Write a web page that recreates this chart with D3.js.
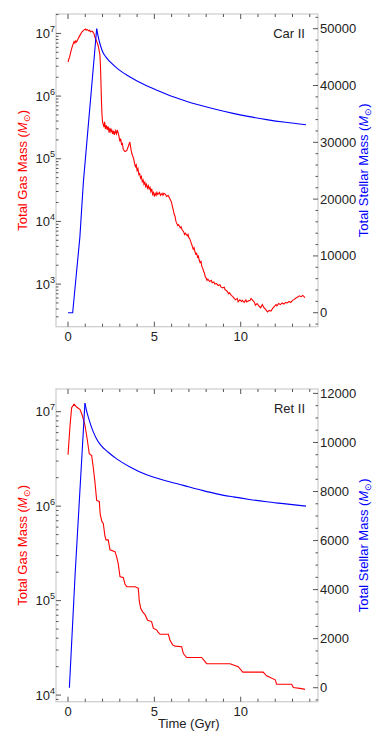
<!DOCTYPE html>
<html><head><meta charset="utf-8">
<script src="https://cdn.jsdelivr.net/npm/d3@7"></script>
<style>
html,body{margin:0;padding:0;background:#fff;}
svg{display:block;font-family:"Liberation Sans",Arial,sans-serif;}
</style></head>
<body>
<svg id="c" width="374" height="747"></svg>
<script>
// ---------------- DATA ----------------
const panelNames = ["Car II", "Ret II"];
const xTickLabels = [0, 5, 10];

// Car II: total gas mass (Msun) vs time (Gyr)
const carGasT = [0,0.1,0.2,0.3,0.35,0.4,0.45,0.5,0.6,0.7,0.8,0.9,1.0,1.05,1.1,1.2,1.25,1.3,1.4,1.5,1.55,1.6,1.7,1.75,1.8,1.85,1.88,1.91,1.94,1.97,2.0,2.03,2.08,2.12,2.17,2.22,2.27,2.32,2.38,2.43,2.48,2.53,2.58,2.63,2.68,2.74,2.8,2.85,2.9,2.95,3.0,3.05,3.1,3.15,3.2,3.3,3.4,3.5,3.58,3.65,3.7,3.75,3.8,3.85,3.9,3.95,4.0,4.05,4.1,4.15,4.2,4.25,4.3,4.35,4.4,4.45,4.5,4.55,4.6,4.65,4.7,4.75,4.8,4.85,4.9,4.95,5.0,5.05,5.1,5.15,5.2,5.3,5.35,5.45,5.5,5.55,5.65,5.7,5.8,5.9,6.0,6.05,6.1,6.15,6.2,6.25,6.3,6.35,6.4,6.5,6.55,6.6,6.7,6.75,6.8,6.9,6.95,7.0,7.05,7.1,7.15,7.2,7.25,7.3,7.35,7.4,7.45,7.5,7.55,7.6,7.65,7.7,7.75,7.8,7.85,7.9,7.95,8.0,8.05,8.1,8.2,8.3,8.35,8.45,8.5,8.6,8.7,8.8,8.85,8.95,9.05,9.1,9.2,9.3,9.35,9.45,9.55,9.6,9.7,9.8,9.85,9.95,10.05,10.1,10.2,10.3,10.35,10.45,10.55,10.6,10.7,10.8,10.85,10.95,11.05,11.15,11.25,11.35,11.45,11.55,11.65,11.75,11.85,11.95,12.05,12.1,12.2,12.3,12.4,12.5,12.6,12.7,12.8,12.9,13.0,13.1,13.2,13.3,13.4,13.5,13.6,13.72];
const carGas = [3.5e6,4.3e6,5.6e6,6.8e6,7.4e6,7.0e6,7.6e6,7.3e6,8.4e6,9.4e6,1.05e7,1.12e7,1.18e7,1.13e7,1.16e7,1.10e7,1.12e7,1.06e7,1.09e7,1.0e7,8.8e6,8.2e6,7.0e6,6.3e6,5.4e6,4.5e6,3.0e6,1.6e6,8.0e5,5.0e5,3.9e5,3.6e5,3.2e5,3.9e5,3.0e5,3.4e5,2.9e5,3.3e5,2.6e5,3.1e5,2.7e5,2.9e5,2.5e5,2.8e5,2.4e5,2.8e5,2.5e5,2.9e5,2.6e5,2.3e5,1.9e5,2.1e5,1.7e5,1.75e5,1.4e5,1.3e5,1.35e5,1.6e5,1.85e5,1.4e5,1.2e5,1.1e5,1.0e5,8.5e4,7.5e4,8.0e4,6.5e4,7.0e4,5.6e4,5.8e4,4.9e4,5.2e4,4.3e4,4.6e4,3.9e4,4.2e4,3.6e4,3.9e4,3.4e4,3.7e4,3.3e4,3.5e4,3.0e4,3.3e4,2.7e4,2.9e4,2.5e4,2.8e4,2.6e4,2.9e4,2.7e4,2.9e4,2.6e4,2.8e4,2.6e4,2.8e4,2.7e4,2.5e4,2.6e4,2.3e4,2.0e4,1.7e4,1.5e4,1.3e4,1.2e4,1.0e4,9.3e3,8.6e3,8.9e3,7.9e3,8.2e3,7.4e3,6.8e3,6.2e3,6.5e3,5.9e3,6.2e3,5.5e3,5.3e3,4.8e3,4.4e3,4.0e3,3.6e3,3.8e3,3.3e3,3.0e3,3.1e3,2.7e3,2.8e3,2.4e3,2.2e3,2.3e3,1.9e3,1.8e3,1.6e3,1.5e3,1.3e3,1.25e3,1.15e3,1.2e3,1.1e3,1.15e3,1.05e3,1.08e3,1.0e3,1.02e3,9.5e2,9.8e2,9.0e2,8.7e2,8.9e2,8.1e2,7.8e2,7.0e2,7.3e2,6.6e2,6.3e2,6.0e2,5.6e2,5.9e2,5.2e2,5.6e2,5.3e2,5.5e2,5.1e2,5.6e2,5.2e2,5.4e2,5.5e2,5.9e2,5.5e2,5.1e2,4.6e2,4.9e2,4.5e2,4.2e2,4.7e2,4.2e2,3.9e2,3.6e2,3.8e2,3.7e2,4.1e2,4.4e2,4.7e2,4.5e2,4.9e2,4.7e2,5.0e2,4.8e2,5.1e2,5.0e2,5.3e2,5.1e2,5.5e2,5.7e2,6.0e2,6.2e2,6.5e2,6.3e2,6.6e2,6.1e2];

// Car II: total stellar mass (Msun)
const carStarT = [0,0.27,0.69,0.89,1.66,1.75,1.85,2.0,2.2,2.43,2.8,3.1,3.4,4.0,4.75,5.4,6.04,6.8,7.6,8.6,9.56,10.5,11.5,12.6,13.78];
const carStar  = [0,0,13400,23000,50000,48550,47350,46000,45000,44190,43150,42450,41850,40800,39700,38850,38050,37280,36570,35780,35100,34520,34000,33520,33100];

// Ret II: total gas mass (Msun)
const retGasT = [0,0.12,0.21,0.35,0.5,0.7,0.83,0.98,1.08,1.23,1.3,1.37,1.47,1.56,1.66,1.81,1.87,1.97,2.04,2.14,2.2,2.33,2.43,2.72,2.82,2.91,3.01,3.2,3.3,3.4,3.88,3.98,4.07,4.13,4.21,4.32,4.46,4.61,4.84,4.94,5.13,5.23,5.33,5.81,5.91,6.06,6.2,6.58,6.68,6.87,7.74,8.03,9.38,9.86,10.12,11.3,11.5,12.0,12.08,12.95,13.05,13.53,13.72];
const retGas  = [3.5e6,7.2e6,1.1e7,1.2e7,1.12e7,1.05e7,9.1e6,7.2e6,5.6e6,3.6e6,3.5e6,3.45e6,2.5e6,1.8e6,1.15e6,1.12e6,8.1e5,6.8e5,6.6e5,4.8e5,4.4e5,4.4e5,3.45e5,3.3e5,2.9e5,2.45e5,1.8e5,1.75e5,1.5e5,1.4e5,1.4e5,1.38e5,1.35e5,9.8e4,8.3e4,7.6e4,7.1e4,6.2e4,6.0e4,5.1e4,4.9e4,4.6e4,4.4e4,4.4e4,3.8e4,3.4e4,3.3e4,3.25e4,2.75e4,2.5e4,2.5e4,2.15e4,2.15e4,2.0e4,1.75e4,1.75e4,1.6e4,1.45e4,1.3e4,1.3e4,1.2e4,1.17e4,1.15e4];

// Ret II: total stellar mass (Msun)
const retStarT = [0.08,0.41,0.98,1.08,1.18,1.3,1.47,1.65,1.85,2.33,2.82,3.59,4.55,5.71,6.68,7.64,8.6,9.57,10.5,11.5,12.47,13.78];
const retStar  = [0,4600,11600,11280,11020,10750,10420,10150,9930,9600,9330,9000,8680,8430,8250,8070,7905,7780,7675,7580,7505,7405];

const gasTickExp = [[3,4,5,6,7],[4,5,6,7]];
const starTicks = [[0,10000,20000,30000,40000,50000],[0,2000,4000,6000,8000,10000,12000]];
const starMinorStep = [2000, 500];

// ---------------- DRAW ----------------
const svg = d3.select("#c");
const L = 56, R = 318;
const panels = [
  {top:14, bottom:326.7, name:panelNames[0], logDom:[Math.pow(10,2.32),Math.pow(10,7.31)], sDom:[-2460,52590],
   gT:carGasT, g:carGas, sT:carStarT, s:carStar, exps:gasTickExp[0], sTicks:starTicks[0], sMinor:starMinorStep[0]},
  {top:389, bottom:701.7, name:panelNames[1], logDom:[Math.pow(10,3.93),Math.pow(10,7.24)], sDom:[-570,12180],
   gT:retGasT, g:retGas, sT:retStarT, s:retStar, exps:gasTickExp[1], sTicks:starTicks[1], sMinor:starMinorStep[1]}
];
const x = d3.scaleLinear().domain([-0.695,14.476]).range([L,R]);
const tickCol = "#555", frameCol = "#cfcfcf", textCol = "#222";

panels.forEach((p, pi) => {
  const yl = d3.scaleLog().domain(p.logDom).range([p.bottom, p.top]);
  const yr = d3.scaleLinear().domain(p.sDom).range([p.bottom, p.top]);
  const g = svg.append("g");

  g.append("rect").attr("x",L).attr("y",p.top).attr("width",R-L).attr("height",p.bottom-p.top)
    .attr("fill","none").attr("stroke",frameCol).attr("stroke-width",1.3);

  d3.range(0,15,1).forEach(t => {
    const len = t % 5 === 0 ? 5 : 3;
    g.append("line").attr("x1",x(t)).attr("x2",x(t)).attr("y1",p.bottom).attr("y2",p.bottom-len).attr("stroke",tickCol);
    g.append("line").attr("x1",x(t)).attr("x2",x(t)).attr("y1",p.top).attr("y2",p.top+len).attr("stroke",tickCol);
  });
  xTickLabels.forEach(t => {
    g.append("text").attr("x",x(t)).attr("y",p.bottom+14).attr("text-anchor","middle")
      .attr("font-size",13).attr("fill",textCol).text(t);
  });

  const lo = Math.floor(Math.log10(p.logDom[0])), hi = Math.ceil(Math.log10(p.logDom[1]));
  for (let e = lo; e <= hi; e++) {
    for (let m = 1; m <= 9; m++) {
      const v = m * Math.pow(10, e);
      if (v < p.logDom[0] || v > p.logDom[1]) continue;
      const len = m === 1 ? 5 : 2.5;
      g.append("line").attr("x1",L).attr("x2",L+len).attr("y1",yl(v)).attr("y2",yl(v)).attr("stroke",tickCol);
    }
  }
  p.exps.forEach(e => {
    const t = g.append("text").attr("x",L-1).attr("y",yl(Math.pow(10,e))+4.5).attr("text-anchor","end")
      .attr("font-size",13).attr("fill",textCol);
    t.append("tspan").text("10");
    t.append("tspan").attr("font-size",9).attr("dy",-6).text(e);
  });

  const sMin = Math.ceil(p.sDom[0]/p.sMinor)*p.sMinor;
  d3.range(sMin, p.sDom[1], p.sMinor).forEach(v => {
    const len = p.sTicks.includes(v) ? 5 : 2.5;
    g.append("line").attr("x1",R).attr("x2",R-len).attr("y1",yr(v)).attr("y2",yr(v)).attr("stroke",tickCol);
  });
  p.sTicks.forEach(v => {
    g.append("text").attr("x",R+2).attr("y",yr(v)+4.5).attr("font-size",13).attr("fill",textCol).text(v);
  });

  const gasLine = d3.line().x(d => x(d[0])).y(d => yl(d[1]));
  const starRise = d3.line().x(d => x(d[0])).y(d => yr(d[1]));
  const starDecay = d3.line().x(d => x(d[0])).y(d => yr(d[1])).curve(d3.curveMonotoneX);
  g.append("path").datum(p.gT.map((t,i)=>[t,p.g[i]])).attr("d",gasLine)
    .attr("fill","none").attr("stroke","#ff0000").attr("stroke-width",1.1);
  const sData = p.sT.map((t,i)=>[t,p.s[i]]);
  const pk = d3.maxIndex(p.s);
  g.append("path").datum(sData.slice(0,pk+1)).attr("d",starRise)
    .attr("fill","none").attr("stroke","#0000ff").attr("stroke-width",1.1);
  g.append("path").datum(sData.slice(pk)).attr("d",starDecay)
    .attr("fill","none").attr("stroke","#0000ff").attr("stroke-width",1.1);

  g.append("text").attr("x",305).attr("y",p.top+24).attr("text-anchor","end")
    .attr("font-size",13).attr("fill",textCol).text(p.name);

  const cy = (p.top + p.bottom)/2;
  const lt = g.append("text").attr("transform",`translate(27,${cy}) rotate(-90)`).attr("text-anchor","middle")
    .attr("font-size",13).attr("fill","#ff0000");
  lt.append("tspan").text("Total Gas Mass (");
  lt.append("tspan").attr("font-style","italic").text("M");
  lt.append("tspan").attr("font-size",9).attr("dy",3).text("⊙");
  lt.append("tspan").attr("dy",-3).text(")");

  const rt = g.append("text").attr("transform",`translate(368,${cy}) rotate(-90)`).attr("text-anchor","middle")
    .attr("font-size",13).attr("fill","#0000ff");
  rt.append("tspan").text("Total Stellar Mass (");
  rt.append("tspan").attr("font-style","italic").text("M");
  rt.append("tspan").attr("font-size",9).attr("dy",3).text("⊙");
  rt.append("tspan").attr("dy",-3).text(")");
});

svg.append("text").attr("x",x(7)).attr("y",728).attr("text-anchor","middle")
  .attr("font-size",13).attr("fill",textCol).text("Time (Gyr)");
</script>
</body></html>
